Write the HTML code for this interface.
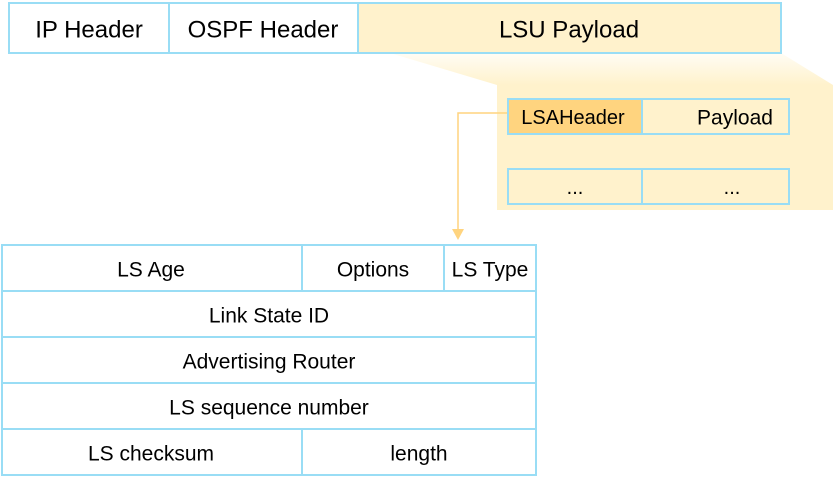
<!DOCTYPE html>
<html><head><meta charset="utf-8"><style>
html,body{margin:0;padding:0;background:#fff}
svg text{font-family:"Liberation Sans",sans-serif;fill:#000;text-anchor:middle;dominant-baseline:central}
</style></head><body>
<svg width="833" height="483" viewBox="0 0 833 483" xmlns="http://www.w3.org/2000/svg">
<defs>
<linearGradient id="g" x1="0" y1="0" x2="0" y2="1">
<stop offset="0" stop-color="#fff2cc" stop-opacity="0.2"/>
<stop offset="1" stop-color="#fff2cc" stop-opacity="1"/>
</linearGradient>
</defs>
<polygon points="390,53 781,53 833,85 497,85" fill="url(#g)"/>
<rect x="497" y="85" width="336" height="125" fill="#fff2cc"/>
<!-- top bar -->
<rect x="9" y="3" width="772" height="50" fill="#fff" stroke="#99ddf5" stroke-width="2"/>
<rect x="358" y="3" width="423" height="50" fill="#fff2cc" stroke="#99ddf5" stroke-width="2"/>
<line x1="169" y1="3" x2="169" y2="53" stroke="#99ddf5" stroke-width="2"/>
<text x="89" y="30" font-size="24">IP Header</text>
<text x="263" y="30" font-size="24">OSPF Header</text>
<text x="569" y="30" font-size="24">LSU Payload</text>
<!-- inner rows -->
<rect x="508" y="99" width="134" height="35" fill="#ffd47f"/>
<rect x="508" y="99" width="281" height="35" fill="none" stroke="#99ddf5" stroke-width="2"/>
<rect x="642" y="99" width="147" height="35" fill="#fff2cc" stroke="#99ddf5" stroke-width="2"/>
<text x="573" y="118" font-size="20">LSAHeader</text>
<text x="735" y="118" font-size="21">Payload</text>
<rect x="508" y="169" width="281" height="35" fill="#fff2cc" stroke="#99ddf5" stroke-width="2"/>
<line x1="642" y1="169" x2="642" y2="204" stroke="#99ddf5" stroke-width="2"/>
<text x="575" y="188" font-size="20">...</text>
<text x="732" y="188" font-size="20">...</text>
<!-- arrow -->
<polyline points="507,113 458,113 458,230" fill="none" stroke="#ffd47f" stroke-width="1.5"/>
<polygon points="452,229 464,229 458,240" fill="#ffd47f"/>
<!-- lower table -->
<g stroke="#99ddf5" stroke-width="2" fill="none">
<rect x="2" y="245" width="534" height="230"/>
<line x1="2" y1="291" x2="536" y2="291"/>
<line x1="2" y1="337" x2="536" y2="337"/>
<line x1="2" y1="383" x2="536" y2="383"/>
<line x1="2" y1="429" x2="536" y2="429"/>
<line x1="302" y1="245" x2="302" y2="291"/>
<line x1="444" y1="245" x2="444" y2="291"/>
<line x1="302" y1="429" x2="302" y2="475"/>
</g>
<g font-size="21">
<text x="151" y="270">LS Age</text>
<text x="373" y="270">Options</text>
<text x="490" y="270">LS Type</text>
<text x="269" y="316">Link State ID</text>
<text x="269" y="362">Advertising Router</text>
<text x="269" y="408">LS sequence number</text>
<text x="151" y="454">LS checksum</text>
<text x="419" y="454">length</text>
</g>
</svg>
</body></html>
